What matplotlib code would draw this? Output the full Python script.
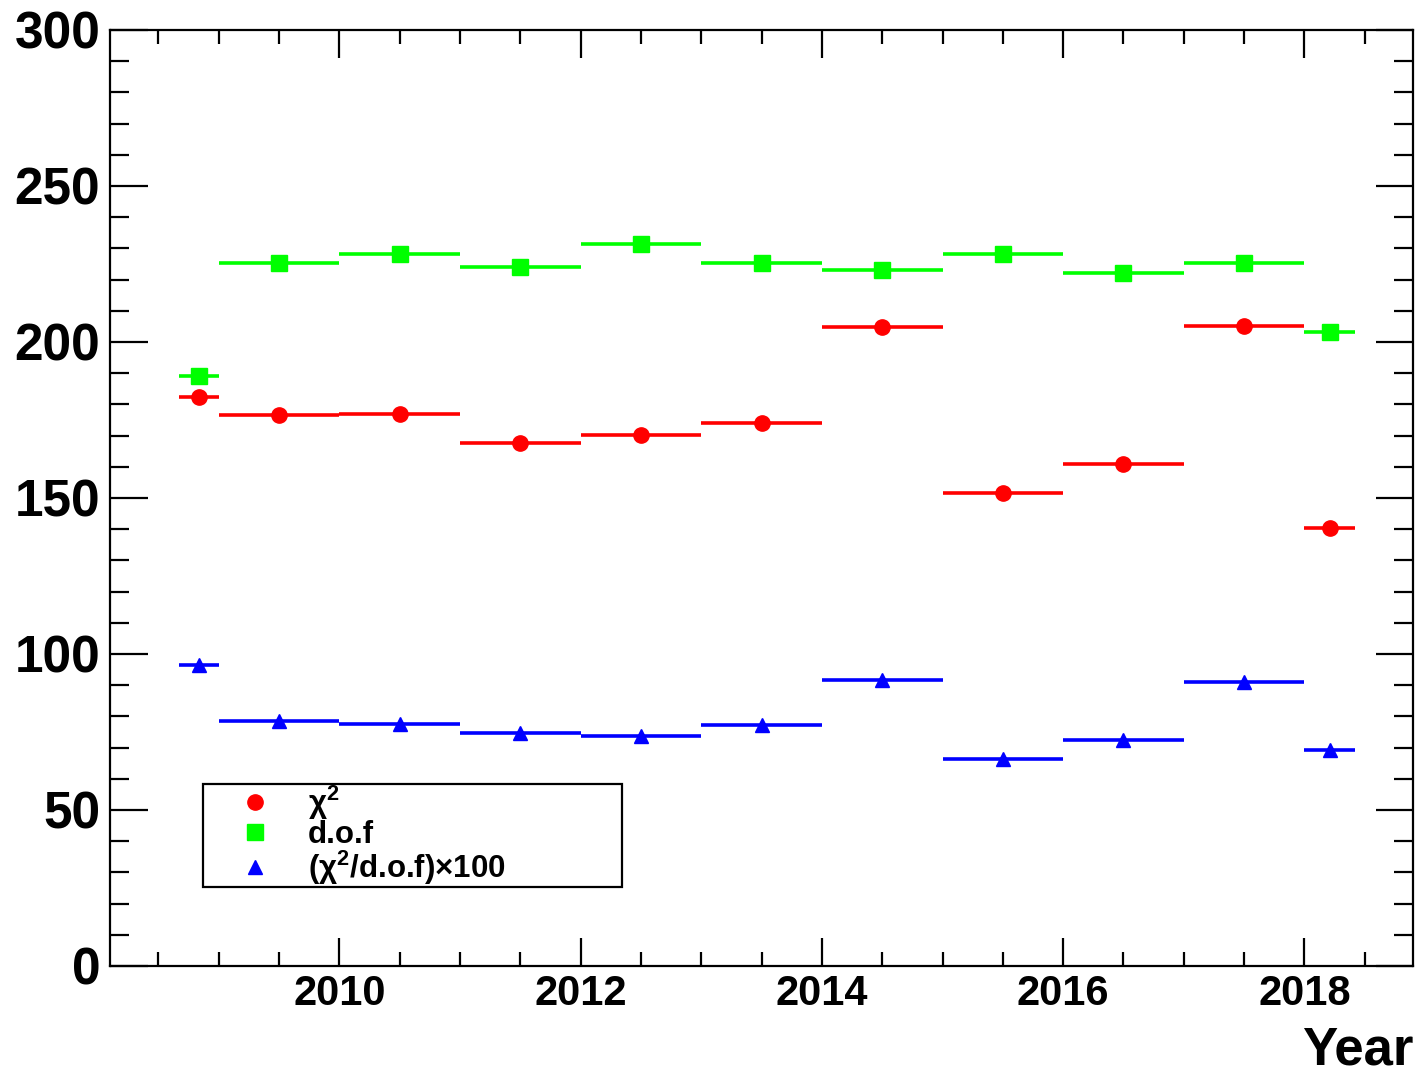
import matplotlib
matplotlib.use('Agg')
import matplotlib.pyplot as plt
import numpy as np
from matplotlib.lines import Line2D
from matplotlib.ticker import MultipleLocator

plt.rcParams['font.family'] = ['Liberation Sans', 'DejaVu Sans']
plt.rcParams['font.weight'] = 'bold'
plt.rcParams['mathtext.fontset'] = 'custom'
plt.rcParams['mathtext.rm'] = 'Liberation Sans:bold'
plt.rcParams['mathtext.it'] = 'Liberation Sans:bold'
plt.rcParams['mathtext.bf'] = 'Liberation Sans:bold'

# bin edges (year fractions) and values per bin
bin_lo = [2008.67, 2009, 2010, 2011, 2012, 2013, 2014, 2015, 2016, 2017, 2018]
bin_hi = [2009, 2010, 2011, 2012, 2013, 2014, 2015, 2016, 2017, 2018, 2018.42]
chi2 = [182.4, 176.6, 176.8, 167.6, 170.2, 174.0, 204.8, 151.6, 160.9, 205.1, 140.4]
dof = [189.1, 225.3, 228.2, 224.0, 231.4, 225.3, 223.0, 228.2, 222.1, 225.3, 203.2]
ratio = [96.5, 78.4, 77.5, 74.8, 73.6, 77.2, 91.8, 66.4, 72.5, 91.0, 69.1]

lo = np.array(bin_lo)
hi = np.array(bin_hi)
centers = (lo + hi) / 2
halfw = (hi - lo) / 2

fig = plt.figure(figsize=(14.18, 10.75), dpi=100)
ax = fig.add_axes([0.0776, 0.1014, 0.9189, 0.8707])

series = [
    (chi2, '#ff0000', 'o', 11, 'χ$^{2}$'),
    (dof, '#00ff00', 's', 11, 'd.o.f'),
    (ratio, '#0000ff', '^', 10, '(χ$^{2}$/d.o.f)×100'),
]
handles = []
for vals, col, mk, ms, lab in series:
    ax.errorbar(centers, vals, xerr=halfw, fmt=mk, color=col, ms=ms,
                elinewidth=2.6, capsize=0, mec=col)
    handles.append(Line2D([], [], marker=mk, color=col, ls='none', ms=ms, label=lab))

ax.set_xlim(2008.1, 2018.9)
ax.set_ylim(0, 300)

ax.xaxis.set_major_locator(MultipleLocator(2))
ax.xaxis.set_minor_locator(MultipleLocator(0.5))
ax.yaxis.set_major_locator(MultipleLocator(50))
ax.yaxis.set_minor_locator(MultipleLocator(10))

ax.tick_params(axis='both', which='both', direction='in', top=True, right=True, width=1.6)
ax.tick_params(axis='y', which='major', length=27, labelsize=37, pad=7)
ax.tick_params(axis='y', which='minor', length=14)
ax.tick_params(axis='x', which='major', length=20, labelsize=30, pad=6)
ax.tick_params(axis='x', which='minor', length=10)
for lbl in ax.get_xticklabels() + ax.get_yticklabels():
    lbl.set_fontweight('bold')
for sp in ax.spines.values():
    sp.set_linewidth(1.6)

ax.set_xlabel('Year', fontsize=38, fontweight='bold', ha='right')
ax.xaxis.set_label_coords(1.0, -0.0635)

# legend box
leg = ax.legend(handles=handles, loc='lower left',
                bbox_to_anchor=(0.0714, 0.0844, 0.3216, 0.107), mode='expand',
                fontsize=22.5, frameon=True, fancybox=False, edgecolor='black',
                framealpha=1, borderaxespad=0, borderpad=0.0, labelspacing=-0.05,
                handlelength=3.3, handletextpad=0.05)
leg.get_frame().set_linewidth(1.6)
for t in leg.get_texts():
    t.set_fontweight('bold')

fig.savefig('out.png', dpi=100)
